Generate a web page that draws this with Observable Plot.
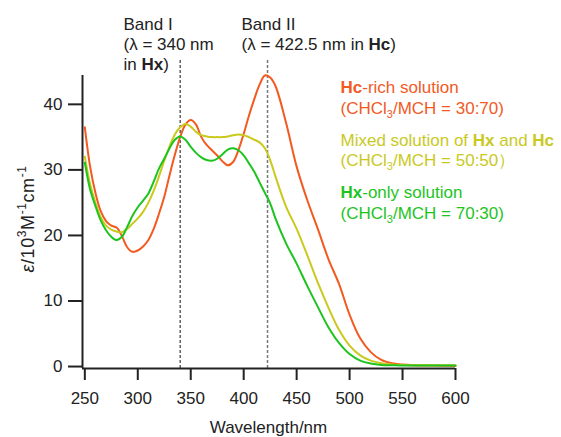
<!DOCTYPE html>
<html>
<head>
<meta charset="utf-8">
<script src="https://cdn.jsdelivr.net/npm/d3@7"></script>
<script src="https://cdn.jsdelivr.net/npm/@observablehq/plot@0.6"></script>
<style>
  html, body { margin: 0; padding: 0; background: #fff; }
  svg text { font-family: "Liberation Sans", Arial, sans-serif; }
</style>
</head>
<body>
<div id="chart"></div>
<script>
// Absorption spectra (ε / 10^3 M^-1 cm^-1) of the three solutions
const wavelengths = [250, 255, 260, 265, 270, 275, 280, 285, 290, 295, 300, 305, 310, 315, 320, 325, 330, 335, 340, 345, 350, 355, 360, 365, 370, 375, 380, 385, 390, 395, 400, 405, 410, 415, 420, 425, 430, 440, 450, 460, 470, 480, 490, 500, 510, 520, 530, 540, 550, 560, 580, 600];

const hcRich = [36.5, 30.5, 26.5, 23.7, 22.2, 21.5, 21.2, 19.9, 18.2, 17.5, 17.7, 18.3, 19.3, 21.0, 23.3, 25.9, 29.2, 32.3, 35.0, 36.9, 37.6, 36.9, 35.0, 33.8, 33.0, 32.2, 31.3, 30.7, 31.2, 33.0, 35.5, 38.3, 40.8, 43.0, 44.4, 44.1, 42.8, 37.2, 30.5, 25.4, 21.0, 16.4, 12.6, 7.9, 4.3, 2.2, 1.0, 0.5, 0.3, 0.2, 0.15, 0.1];

const mixed = [32.0, 27.8, 25.0, 22.8, 21.5, 20.9, 20.6, 20.5, 21.0, 21.8, 22.6, 23.6, 25.0, 26.8, 29.0, 31.4, 33.6, 35.4, 36.5, 37.0, 36.6, 35.8, 35.3, 35.1, 35.0, 35.0, 35.0, 35.1, 35.3, 35.4, 35.3, 35.0, 34.6, 34.2, 33.3, 31.5, 29.0, 24.4, 21.0, 17.0, 12.8, 9.0, 5.6, 3.2, 1.7, 0.9, 0.5, 0.3, 0.25, 0.2, 0.2, 0.2];

const hxOnly = [31.1, 27.0, 24.5, 22.3, 20.8, 19.8, 19.3, 19.8, 21.3, 23.0, 24.3, 25.3, 26.4, 28.2, 30.2, 31.7, 33.3, 34.6, 35.1, 34.6, 33.5, 32.6, 31.9, 31.5, 31.4, 31.7, 32.4, 33.1, 33.3, 33.0, 32.2, 31.0, 29.7, 28.1, 26.5, 24.9, 22.6, 18.8, 15.7, 12.3, 9.1, 6.0, 3.6, 1.9, 0.9, 0.45, 0.25, 0.2, 0.15, 0.15, 0.15, 0.15];

const seriesNames = ["Hc-rich", "Mixed", "Hx-only"];
const seriesColors = ["#f25a1f", "#c9c91e", "#1ec41e"];

const xTicks = [250, 300, 350, 400, 450, 500, 550, 600];
const yTicks = [0, 10, 20, 30, 40];

// Band positions (nm) marked by dashed guides
const bandI = 340;
const bandII = 422.5;

// Axis extents
const xStart = 247.8, xEnd = 600;
const yStart = -0.3, yTop = 44.4, guideTop = 47;

const rows = [];
[hcRich, mixed, hxOnly].forEach((vals, s) => {
  vals.forEach((v, i) => rows.push({series: seriesNames[s], wl: wavelengths[i], eps: v}));
});

const ink = "#222";

const chart = Plot.plot({
  width: 561,
  height: 437,
  marginLeft: 82,
  marginRight: 106,
  marginTop: 75,
  marginBottom: 69,
  style: {fontFamily: '"Liberation Sans", Arial, sans-serif', fontSize: "17px", color: ink, background: "#fff"},
  x: {domain: [xStart, xEnd], label: null},
  y: {domain: [yStart, yTop], label: null},
  color: {domain: seriesNames, range: seriesColors},
  marks: [
    Plot.ruleX([bandI], {y1: yStart, y2: guideTop, stroke: "#111", strokeWidth: 1, strokeDasharray: "3,2"}),
    Plot.ruleX([bandII], {y1: yStart, y2: guideTop, stroke: "#777", strokeWidth: 1.5, strokeDasharray: "3,2"}),
    Plot.line(rows, {x: "wl", y: "eps", z: "series", stroke: "series", strokeWidth: 2, curve: "catmull-rom"}),
    Plot.ruleX([xStart], {stroke: ink, strokeWidth: 2}),
    Plot.ruleY([yStart], {stroke: ink, strokeWidth: 2}),
    Plot.axisX(xTicks, {tickSize: 12, tickPadding: 11, strokeWidth: 2, stroke: ink, fill: ink, fontSize: 17, label: null}),
    Plot.axisY(yTicks, {tickSize: 14, tickPadding: 6, strokeWidth: 2, stroke: ink, fill: ink, fontSize: 17, label: null})
  ]
});

document.getElementById("chart").appendChild(chart);

// Rich-text annotations (bold compound names, sub/superscripts)
const svg = d3.select(chart);
const notes = svg.append("g")
  .attr("font-family", '"Liberation Sans", Arial, sans-serif')
  .attr("font-size", 17)
  .attr("text-anchor", "start");

function richText(parent, x, y, parts, fill, scriptSize = 11, supShift = -7) {
  const t = parent.append("text").attr("x", x).attr("y", y).attr("fill", fill);
  let shift = 0;
  parts.forEach(p => {
    const part = typeof p === "string" ? {t: p} : p;
    const target = part.sub ? 4 : part.sup ? supShift : 0;
    const span = t.append("tspan").text(part.t);
    if (target !== shift) span.attr("dy", target - shift);
    shift = target;
    if (part.bold) span.attr("font-weight", "bold");
    if (part.italic) span.attr("font-style", "italic");
    if (part.sub || part.sup) span.attr("font-size", scriptSize);
  });
  return t;
}

const xr = chart.scale("x").range;

// Band labels
const bandLeftI = 123.5, bandLeftII = 241.5;
richText(notes, bandLeftI, 30, ["Band I"], ink);
richText(notes, bandLeftI, 50, ["(λ = 340 nm"], ink);
richText(notes, bandLeftI, 70, ["in ", {t: "Hx", bold: true}, ")"], ink);
richText(notes, bandLeftII, 30, ["Band II"], ink);
richText(notes, bandLeftII, 50, ["(λ = 422.5 nm in ", {t: "Hc", bold: true}, ")"], ink);

// Series legend
const legendX = 340.5;
richText(notes, legendX, 93, [{t: "Hc", bold: true}, "-rich solution"], seriesColors[0]);
richText(notes, legendX, 114, ["(CHCl", {t: "3", sub: true}, "/MCH = 30:70)"], seriesColors[0]);
richText(notes, legendX, 145.5, ["Mixed solution of ", {t: "Hx", bold: true}, " and ", {t: "Hc", bold: true}], seriesColors[1]);
richText(notes, legendX, 165.5, ["(CHCl", {t: "3", sub: true}, "/MCH = 50:50）"], seriesColors[1]);
richText(notes, legendX, 198, [{t: "Hx", bold: true}, "-only solution"], seriesColors[2]);
richText(notes, legendX, 219, ["(CHCl", {t: "3", sub: true}, "/MCH = 70:30)"], seriesColors[2]);

// Axis titles
richText(notes, (xr[0] + xr[1]) / 2, 433, ["Wavelength/nm"], ink).attr("text-anchor", "middle");
richText(notes, -219, 34, [{t: "ε", italic: true}, "/10", {t: "3", sup: true}, "M", {t: "-1", sup: true}, "cm", {t: "-1", sup: true}], ink, 12, -8)
  .attr("text-anchor", "middle")
  .attr("font-size", 18)
  .attr("letter-spacing", 0.6)
  .attr("transform", "rotate(-90)");
</script>
</body>
</html>
